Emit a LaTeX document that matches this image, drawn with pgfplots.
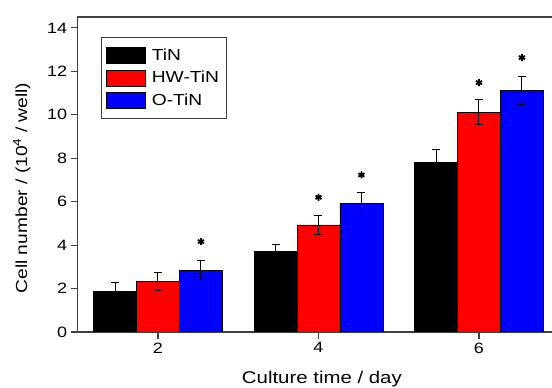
\documentclass[border=0pt]{standalone}
\usepackage{pgfplots}
\pgfplotsset{compat=1.18}
\usepackage{fontspec}
\setmainfont{Liberation Sans}[FakeStretch=1.2]
\definecolor{axgray}{HTML}{404040}
\begin{document}
\begin{tikzpicture}[x=1pt,y=1pt]
\useasboundingbox (0,0) rectangle (552,388);
\begin{axis}[
  at={(77.75pt,56pt)}, anchor=south west,
  scale only axis, width=481.5pt, height=315pt,
  xmin=1, xmax=7, ymin=0, ymax=14.5,
  ybar=0pt, bar width=0.535,
  xtick={2,4,6}, ytick={0,2,4,6,8,10,12,14},
  xtick pos=bottom, ytick pos=left,
  tick align=outside, major tick length=7pt,
  axis line style={axgray, line width=1.2pt},
  every tick/.style={axgray, line width=1.2pt},
  /pgf/number format/assume math mode=true,
  tick label style={font=\fontsize{15}{18}\selectfont},
  xlabel={Culture time / day},
  xlabel style={at={(axis description cs:0.507,-0.149)}, anchor=center, font=\fontsize{17}{20}\selectfont},
  ylabel={Cell number / (10\textsuperscript{4} / well)},
  ylabel style={at={(axis description cs:-0.116,0.457)}, anchor=center, font=\fontsize{16}{19}\selectfont},
  legend style={at={(0.048,0.937)}, anchor=north west, draw=axgray, line width=0.8pt,
    font=\fontsize{16}{19}\selectfont, row sep=5pt, inner xsep=5pt, inner ysep=10pt,
    /tikz/every odd column/.append style={column sep=4pt}},
  legend cell align=left,
  legend image code/.code={\draw[#1, draw=black, line width=0.6pt] (0pt,-8pt) rectangle (39pt,8pt);},
  every axis plot/.append style={line width=0.6pt},
  error bars/error bar style={black, line width=1pt},
  error bars/error mark options={rotate=90, mark size=4pt, black, line width=1pt},
]
\addplot[ybar, bar shift=-0.535, fill=black, draw=black,
  error bars/.cd, y dir=both, y explicit]
  coordinates {(2,1.87) +- (0,0.42) (4,3.72) +- (0,0.33) (6,7.82) +- (0,0.60)};
\addlegendentry{TiN}
\addplot[ybar, bar shift=0, fill=red, draw=black,
  error bars/.cd, y dir=both, y explicit]
  coordinates {(2,2.33) +- (0,0.40) (4,4.93) +- (0,0.42) (6,10.12) +- (0,0.57)};
\addlegendentry{HW-TiN}
\addplot[ybar, bar shift=0.535, fill=blue, draw=black,
  error bars/.cd, y dir=both, y explicit]
  coordinates {(2,2.85) +- (0,0.45) (4,5.93) +- (0,0.47) (6,11.13) +- (0,0.64)};
\addlegendentry{O-TiN}
\addplot[only marks, bar shift=0, mark=asterisk, mark size=3.5pt, black, line width=1.8pt, forget plot]
  coordinates {(2.535,4.16) (4,6.2) (4.535,7.23) (6,11.48) (6.535,12.63)};
\end{axis}
\end{tikzpicture}
\end{document}
